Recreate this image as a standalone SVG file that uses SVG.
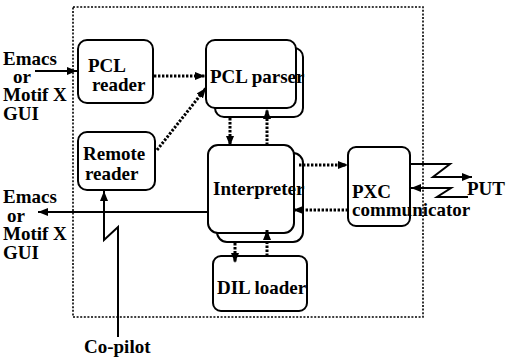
<svg xmlns="http://www.w3.org/2000/svg" width="508" height="362" viewBox="0 0 508 362">
  <style>
    .box { fill: #fff; stroke: #000; stroke-width: 2; }
    .frame { fill: none; stroke: #000; stroke-width: 1.6; stroke-dasharray: 2 1.6; }
    .dot { fill: none; stroke: #000; stroke-width: 3; stroke-dasharray: 2.4 1.6; }
    .solid { fill: none; stroke: #000; stroke-width: 2; }
  </style>
  <defs>
    <marker id="ah" viewBox="0 0 10 8" refX="10" refY="4" markerWidth="10" markerHeight="8" markerUnits="userSpaceOnUse" orient="auto">
      <path d="M0,0 L10,4 L0,8 Z" fill="#000"/>
    </marker>
  </defs>

  <rect width="508" height="362" fill="#fff"/>

  <!-- system boundary -->
  <rect class="frame" x="73" y="7" width="350" height="310"/>

  <!-- all labels share one bold serif face -->
  <g font-family="'Liberation Serif', 'DejaVu Serif Condensed', 'DejaVu Serif', serif" font-weight="bold" font-size="19" fill="#000">
    <g id="gui-in">
      <text x="3" y="65">Emacs</text>
      <text x="13" y="83">or</text>
      <text x="3" y="101">Motif X</text>
      <text x="3" y="120">GUI</text>
    </g>
    <g id="gui-out">
      <text x="3" y="203">Emacs</text>
      <text x="7" y="222">or</text>
      <text x="3" y="240">Motif X</text>
      <text x="3" y="259">GUI</text>
    </g>
    <g id="copilot">
      <text x="84" y="353">Co-pilot</text>
    </g>
    <g id="put">
      <text x="467" y="195">PUT</text>
    </g>

    <g id="pcl-reader">
      <rect class="box" x="78" y="40" width="75" height="63" rx="9"/>
      <text x="88" y="72">PCL</text>
      <text x="92" y="91">reader</text>
    </g>
    <g id="remote-reader">
      <rect class="box" x="78" y="132" width="77" height="58" rx="9"/>
      <text x="83" y="160">Remote</text>
      <text x="85" y="180">reader</text>
    </g>
    <g id="pcl-parser">
      <rect class="box" x="215" y="48" width="88" height="69" rx="9"/>
      <rect class="box" x="206" y="40" width="90" height="68" rx="9"/>
      <text x="210" y="83">PCL parser</text>
    </g>
    <g id="interpreter">
      <rect class="box" x="217" y="153" width="86" height="89" rx="10"/>
      <rect class="box" x="208" y="145" width="86" height="88" rx="10"/>
      <text x="213" y="195">Interpreter</text>
    </g>
    <g id="dil-loader">
      <rect class="box" x="213" y="256" width="94" height="55" rx="8"/>
      <text x="217" y="294">DIL loader</text>
    </g>
    <g id="pxc">
      <rect class="box" x="348" y="147" width="62" height="79" rx="8"/>
      <text x="352" y="198">PXC</text>
      <text x="352" y="216">communicator</text>
    </g>
  </g>

  <!-- connectors -->
  <g id="connectors">
    <path class="solid" d="M35,71 H77" marker-end="url(#ah)"/>
    <path class="solid" d="M208,212 H38" marker-end="url(#ah)"/>
    <path class="solid" d="M118,337 V227 L104,240 V191" marker-end="url(#ah)"/>
    <path class="solid" d="M410,164 H450 L433,177 H472" marker-end="url(#ah)"/>
    <path class="solid" d="M468,197 H437 L451,188 H411" marker-end="url(#ah)"/>

    <path class="dot" d="M154,76 H205" marker-end="url(#ah)"/>
    <path class="dot" d="M157,150 L206,88" marker-end="url(#ah)"/>
    <path class="dot" d="M230,118 V146" marker-end="url(#ah)"/>
    <path class="dot" d="M267,145 V109" marker-end="url(#ah)"/>
    <path class="dot" d="M299,165 H348" marker-end="url(#ah)"/>
    <path class="dot" d="M348,210 H293" marker-end="url(#ah)"/>
    <path class="dot" d="M235,243 V263" marker-end="url(#ah)"/>
    <path class="dot" d="M267,256 V230" marker-end="url(#ah)"/>
  </g>
</svg>
